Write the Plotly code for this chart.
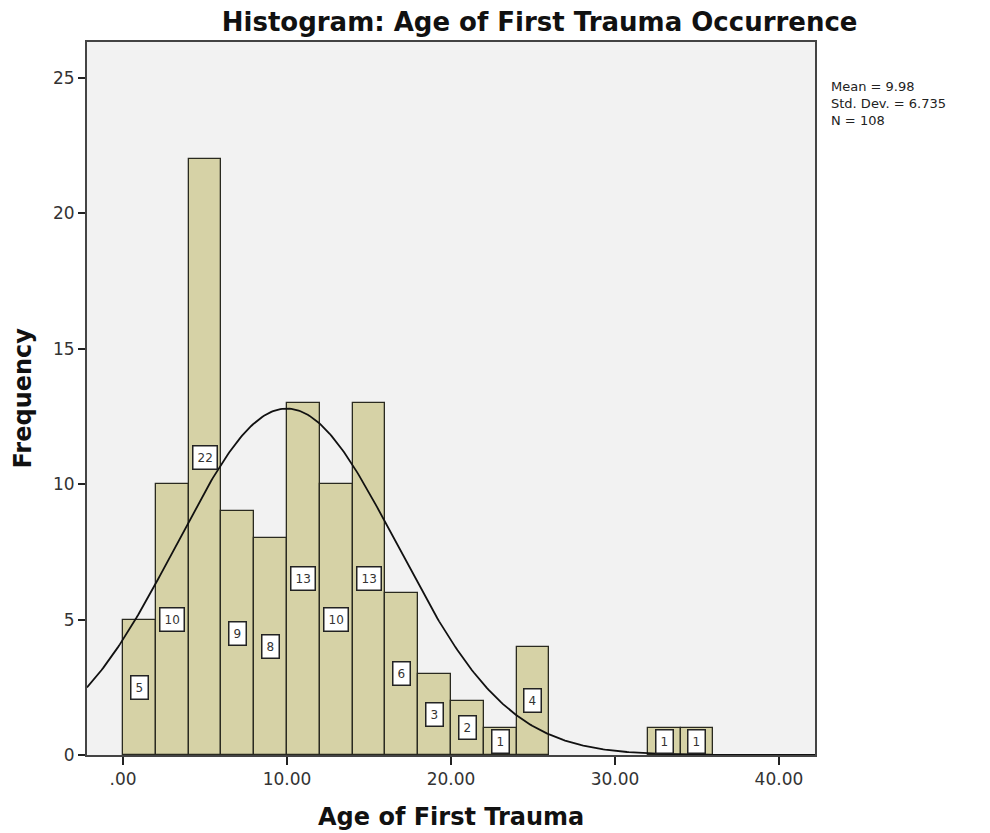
import numpy as np
import plotly.graph_objects as go

bin_starts = [0, 2, 4, 6, 8, 10, 12, 14, 16, 18, 20, 22, 24, 32, 34]
counts = [5, 10, 22, 9, 8, 13, 10, 13, 6, 3, 2, 1, 4, 1, 1]
bin_width = 2
mean_val = 9.98
std_val = 6.735
n_val = 108
x_ticks = [0, 10, 20, 30, 40]
x_tick_labels = [".00", "10.00", "20.00", "30.00", "40.00"]
y_ticks = [0, 5, 10, 15, 20, 25]

centers = [s + bin_width / 2 for s in bin_starts]

fig = go.Figure()
fig.add_trace(go.Bar(
    x=centers, y=counts, width=bin_width,
    marker=dict(color="#D6D2A6", line=dict(color="#2a2a20", width=1.3)),
    hoverinfo="x+y", showlegend=False,
))

# fitted normal curve from the reported statistics
xs = np.linspace(-2.2, 42.2, 400)
ys = n_val * bin_width / (std_val * np.sqrt(2 * np.pi)) * np.exp(-0.5 * ((xs - mean_val) / std_val) ** 2)
fig.add_trace(go.Scatter(x=xs, y=ys, mode="lines", line=dict(color="#111111", width=1.8),
                         showlegend=False, hoverinfo="skip"))

for c, v in zip(centers, counts):
    fig.add_annotation(x=c, y=v / 2, text=str(v), showarrow=False,
                       font=dict(family="DejaVu Sans", size=12, color="#333333"),
                       bgcolor="white", bordercolor="#222222", borderwidth=1.5, borderpad=4)

fig.add_annotation(xref="paper", yref="paper", x=1.019, y=0.951, xanchor="left", yanchor="top",
                   align="left", showarrow=False,
                   text="Mean = 9.98<br>Std. Dev. = 6.735<br>N = 108",
                   font=dict(family="DejaVu Sans", size=13, color="#222222"))

# axis titles
fig.add_annotation(xref="paper", yref="paper", x=0, y=0.5, xshift=-65, xanchor="center", yanchor="middle",
                   text="<b>Frequency</b>", textangle=-90, showarrow=False,
                   font=dict(family="DejaVu Sans", size=24, color="#111111"))
fig.add_annotation(xref="paper", yref="paper", x=0.5, y=0, yshift=-62, xanchor="center", yanchor="middle",
                   text="<b>Age of First Trauma</b>", showarrow=False,
                   font=dict(family="DejaVu Sans", size=24, color="#111111"))

fig.update_layout(
    width=990, height=833,
    margin=dict(l=79, r=183, t=34, b=86),
    paper_bgcolor="white", plot_bgcolor="#F2F2F2",
    bargap=0,
    title=dict(text="<b>Histogram: Age of First Trauma Occurrence</b>",
               xref="container", x=0.537, xanchor="center", yref="container", y=0.983, yanchor="middle",
               font=dict(family="DejaVu Sans", size=26, color="#111111")),
    xaxis=dict(range=[-2.2, 42.2], tickvals=x_ticks, ticktext=x_tick_labels,
               ticks="outside", ticklen=8, tickwidth=2, tickcolor="#222222",
               showline=True, linecolor="#444444", linewidth=2, mirror=True,
               showgrid=False, zeroline=False, automargin=False,
               tickfont=dict(family="DejaVu Sans", size=17, color="#333333")),
    yaxis=dict(range=[0, 26.33], tickvals=y_ticks,
               ticks="outside", ticklen=7, tickwidth=2, tickcolor="#222222",
               showline=True, linecolor="#444444", linewidth=2, mirror=True,
               showgrid=False, zeroline=False, automargin=False,
               tickfont=dict(family="DejaVu Sans", size=17, color="#333333")),
)

fig.write_html("out.html")
